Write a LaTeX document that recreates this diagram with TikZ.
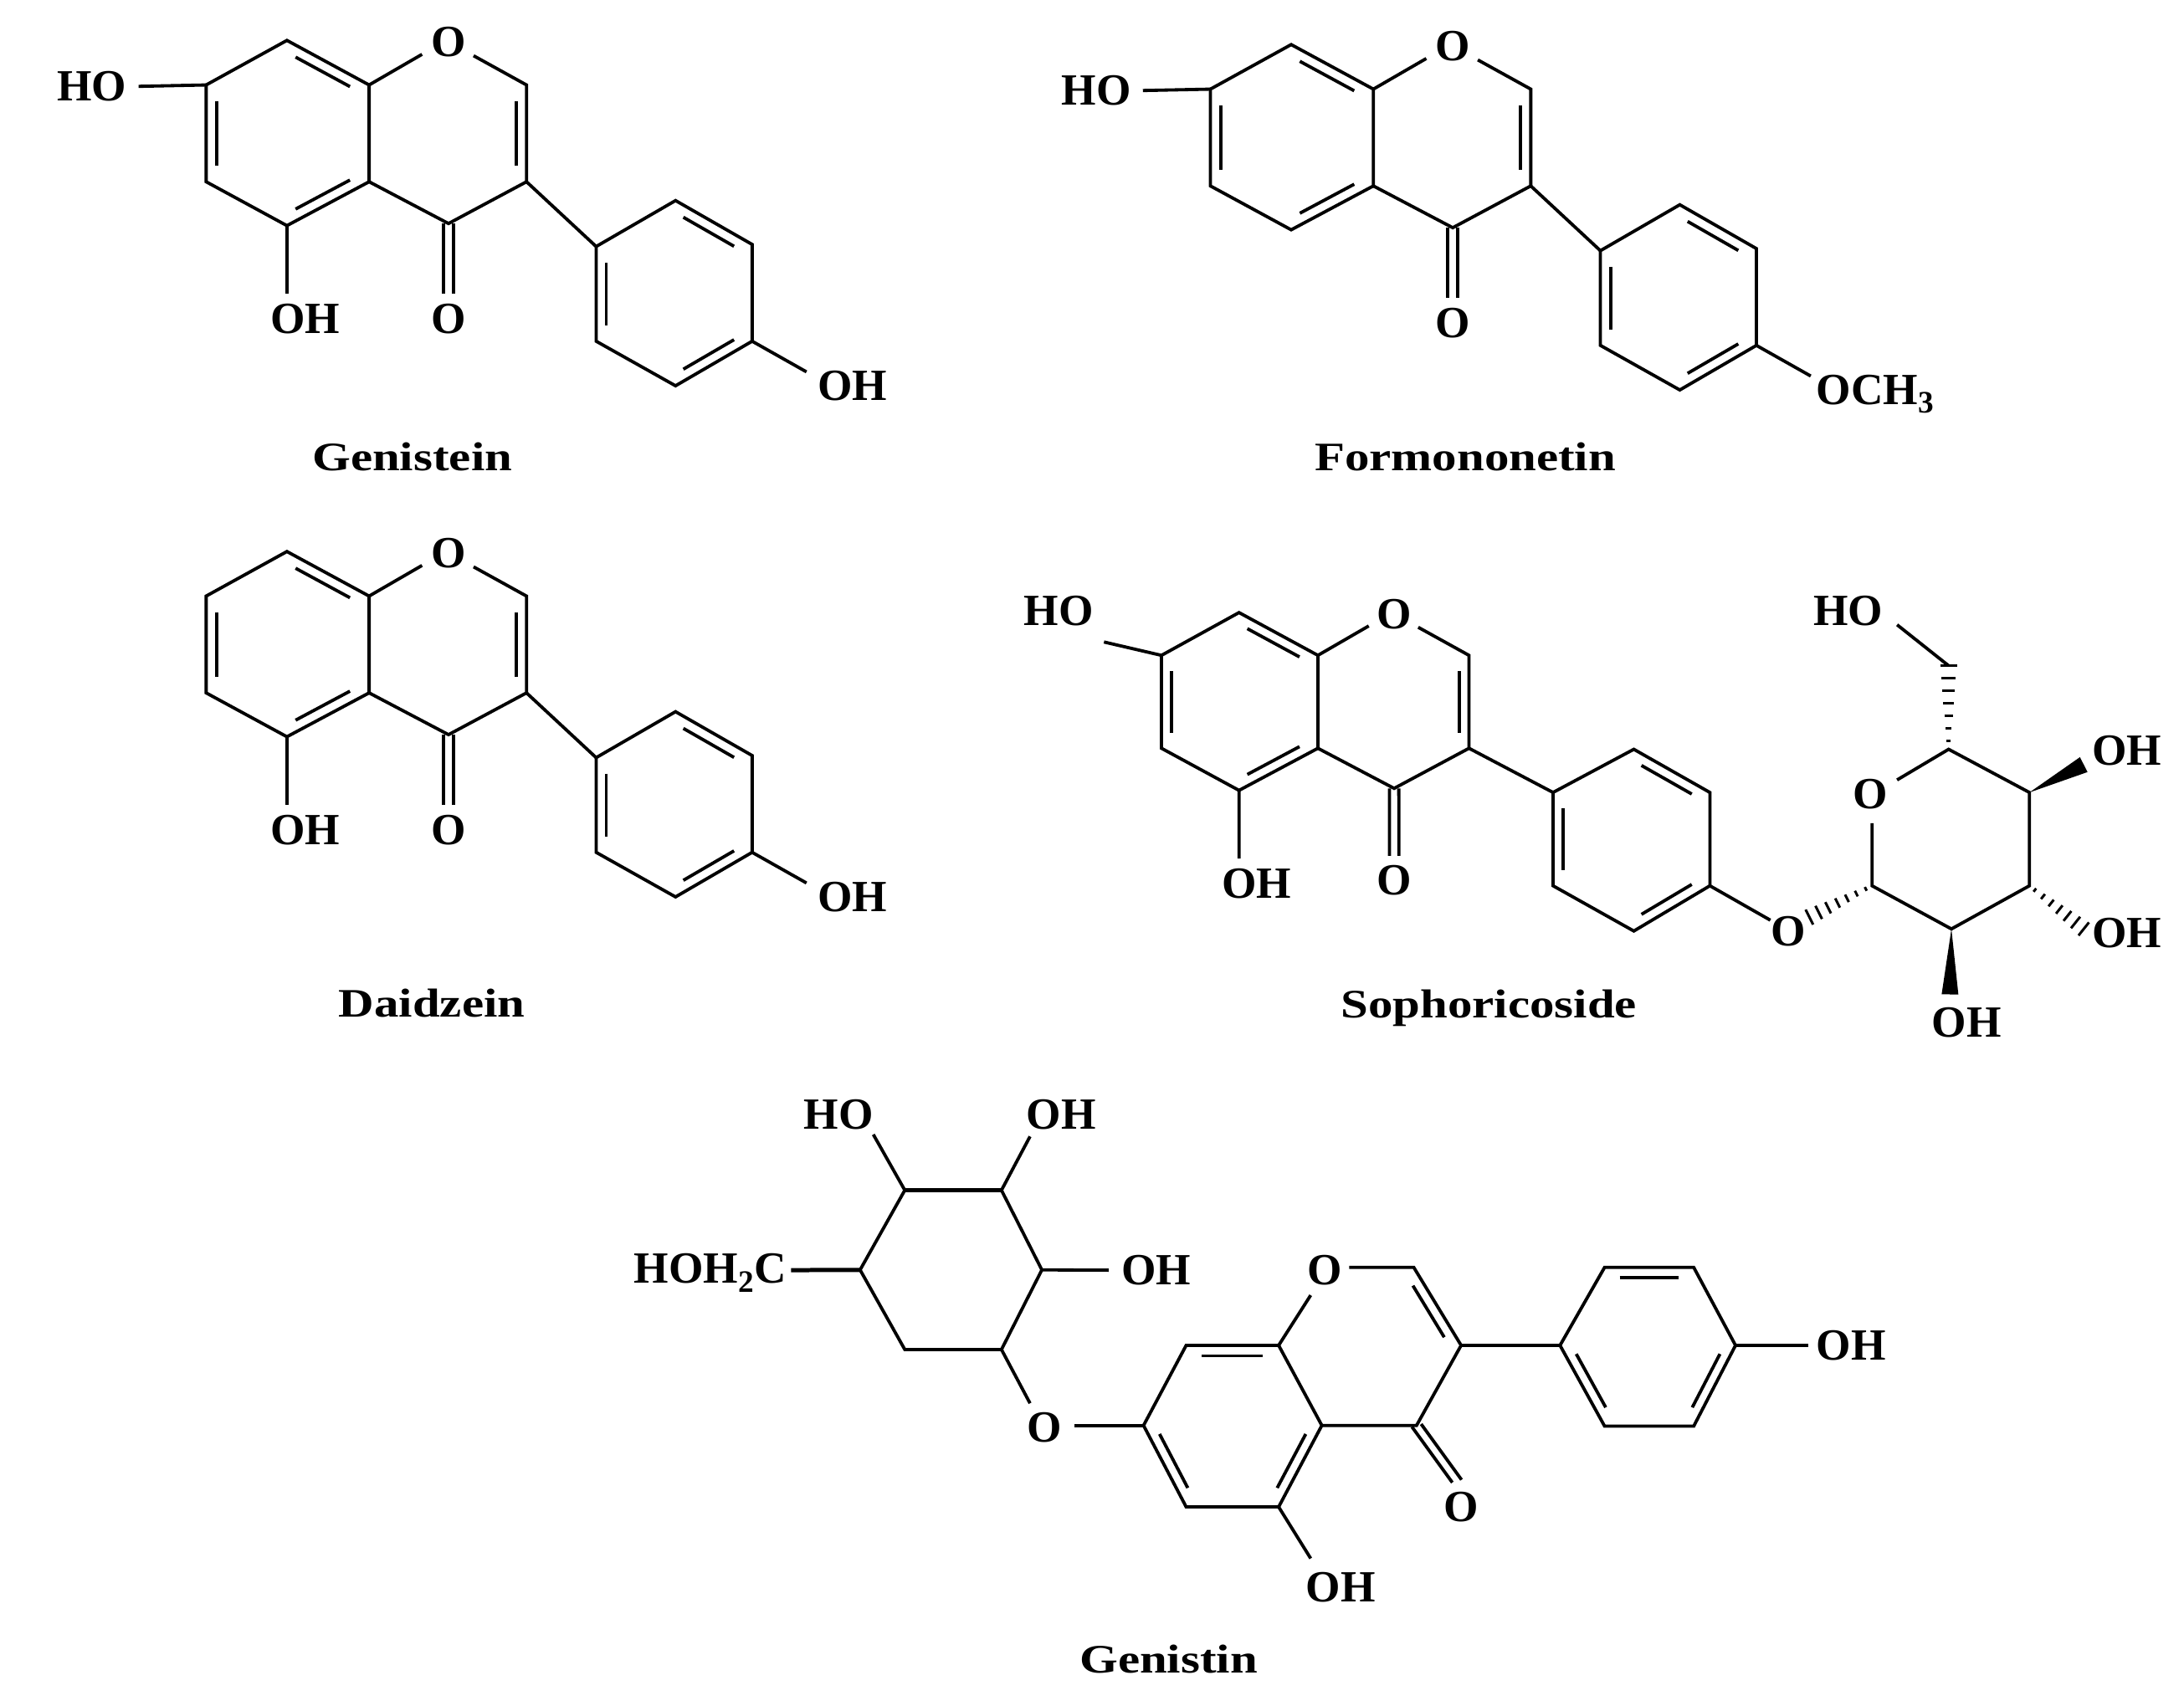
\documentclass[tikz,border=0pt]{standalone}
\usepackage{fontspec}
\usetikzlibrary{calc}
\newfontfamily\tnr{Liberation Serif}
\newcommand\atomfont{\tnr\bfseries\fontsize{32}{32}\selectfont}
\newcommand\namefont{\tnr\bfseries\fontsize{29}{29}\selectfont}
\tikzset{bond/.style={line width=2.3pt,line join=miter},atom/.style={font=\atomfont,inner sep=0pt},
 mname/.style={font=\namefont,inner sep=0pt}}
\newcommand\dbond[3]{\path ($(#2)!0.12!(#3)$) coordinate (dbA) ($(#3)!0.12!(#2)$) coordinate (dbB);
 \draw[bond] ($(#1)!0.87!(dbA)$) -- ($(#1)!0.87!(dbB)$);}
\newcommand\hashb[2]{\foreach \t in {0.1,0.25,...,1.0}{\path ($(#1)!\t!(#2)$) coordinate (hh);
 \pgfmathsetmacro\w{1+5*\t}\draw[line width=1.8pt] ($(hh)!\w pt!90:(#2)$) -- ($(hh)!\w pt!-90:(#2)$);}}
\newcommand\wedgeb[2]{\fill ($(#2)!6pt!90:(#1)$) -- (#1) -- ($(#2)!6pt!-90:(#1)$) -- cycle;}
\newcommand\chromone{%
 \coordinate (a1) at (206,29); \coordinate (a2) at (265,61); \coordinate (a3) at (265,130.5);
 \coordinate (a4) at (206,162); \coordinate (a5) at (148,130.5); \coordinate (a6) at (148,61);
 \coordinate (c2) at (378,61); \coordinate (c3) at (378,130.5); \coordinate (c4) at (322,160.5);
 \coordinate (ac) at (206.5,95.75); \coordinate (cc) at (321.5,95.75);
 \draw[bond] (a1)--(a2)--(a3)--(a4)--(a5)--(a6)--cycle;
 \draw[bond] (a2)--(303,39); \draw[bond] (340,40)--(c2)--(c3)--(c4)--(a3);
 \node[atom] (O1) at (322,30) {O};
 \dbond{ac}{a1}{a2}\dbond{ac}{a6}{a5}\dbond{ac}{a4}{a3}\dbond{cc}{c2}{c3}
 \draw[bond] ($(c4)+(-3.5,0)$)--(318.5,211); \draw[bond] ($(c4)+(3.5,0)$)--(325.5,211);
 \node[atom] (O4) at (322,229) {O};}
\newcommand\phenylG{%
 \coordinate (b1) at (428,177); \coordinate (b2) at (485,144); \coordinate (b3) at (540,175.5);
 \coordinate (b4) at (540,245); \coordinate (b5) at (485,277); \coordinate (b6) at (428,245);
 \coordinate (bc) at (484,211);
 \draw[bond] (c3)--(b1);
 \draw[bond] (b1)--(b2)--(b3)--(b4)--(b5)--(b6)--cycle;
 \dbond{bc}{b2}{b3}\dbond{bc}{b1}{b6}\dbond{bc}{b4}{b5}}
\begin{document}
\begin{tikzpicture}[x=1pt,y=-1pt]
\useasboundingbox[fill=white] (0,0) rectangle (1568,1224.4);
% Genistein
\begin{scope}
 \chromone\phenylG
 \draw[bond] (a6)--(99.5,62); \node[atom] (g7) at (66,62) {HO};
 \draw[bond] (a4)--(206,211); \node[atom] (g5) at (219,229) {OH};
 \draw[bond] (b4)--(579,267); \node[atom] (g4) at (612,277) {OH};
\end{scope}
\node[mname] (n1) at (296,328) {\scalebox{1.22}[1]{Genistein}};
% Formononetin
\begin{scope}[shift={(721,3)}]
 \chromone\phenylG
 \draw[bond] (a6)--(99.5,62); \node[atom] (f7) at (66,62) {HO};
 \draw[bond] (b4)--(579,267); \node[atom,anchor=west] (f4) at (583,280) {OCH\textsubscript{3}};
\end{scope}
\node[mname] (n2) at (1052,328) {\scalebox{1.22}[1]{Formononetin}};
% Daidzein
\begin{scope}[shift={(0,367)}]
 \chromone\phenylG
 \draw[bond] (a4)--(206,211); \node[atom] (d5) at (219,229) {OH};
 \draw[bond] (b4)--(579,267); \node[atom] (d4) at (612,277) {OH};
\end{scope}
\node[mname] (n3) at (310,720) {\scalebox{1.22}[1]{Daidzein}};
% Sophoricoside
\begin{scope}[shift={(691.8,412)},scale=0.96]
 \chromone
 \draw[bond] (a6)--(105,51); \node[atom] (s7) at (71,28) {HO};
 \draw[bond] (a4)--(206,213); \node[atom] (s5) at (219,232) {OH};
\end{scope}
\coordinate (p1) at (1115,569); \coordinate (p2) at (1173,538); \coordinate (p3) at (1227.6,569);
\coordinate (p4) at (1227.6,636); \coordinate (p5) at (1173,668.5); \coordinate (p6) at (1115,636);
\coordinate (pc) at (1171.3,602.5);
\draw[bond] (c3)--(p1);
\draw[bond] (p1)--(p2)--(p3)--(p4)--(p5)--(p6)--cycle;
\dbond{pc}{p2}{p3}\dbond{pc}{p1}{p6}\dbond{pc}{p4}{p5}
\draw[bond] (p4)--(1271,660.7); \node[atom] (sgO) at (1284,668.6) {O};
\coordinate (s1) at (1344,636); \coordinate (s2) at (1401,667); \coordinate (s3) at (1457,636);
\coordinate (s4) at (1457,569); \coordinate (s5) at (1399,538); \coordinate (s6) at (1399,478);
\node[atom] (sO) at (1343,570) {O};
\draw[bond] (1344,591)--(s1)--(s2)--(s3)--(s4)--(s5)--(1362,560);
\hashb{s1}{1299,658.5}
\hashb{s5}{s6}
\draw[bond] (s6)--(1362,448.6); \node[atom] (sHO) at (1327,438.5) {HO};
\wedgeb{s4}{1496,549} \node[atom] (sOH4) at (1527,539) {OH};
\hashb{s3}{1496,667} \node[atom] (sOH3) at (1527,670) {OH};
\wedgeb{s2}{1400,714} \node[atom] (sOH2) at (1412,734) {OH};
\node[mname] (n4) at (1069,724) {\scalebox{1.22}[1]{Sophoricoside}};
% Genistin
\coordinate (h1) at (649.6,854.6); \coordinate (h2) at (719,854.6); \coordinate (h3) at (748,911.8);
\coordinate (h4) at (719,969); \coordinate (h5) at (649.6,969); \coordinate (h6) at (617.5,911.8);
\draw[bond] (h2)--(h3)--(h4)--(h5)--(h6)--(h1);
\draw[line width=3.2pt] (h1)--(h2);
\draw[bond] (h1)--(627,814.6); \node[atom] (tHO) at (602,800) {HO};
\draw[bond] (h2)--(739.5,816); \node[atom] (tOH) at (762,800) {OH};
\draw[bond] (h3)--(796,912); \node[atom] (tOH2) at (830,912) {OH};
\draw[line width=3pt] (h6)--(568,912); \node[atom,anchor=east] (tCH) at (565,914) {HOH\textsubscript{2}C};
\draw[bond] (h4)--(739.5,1007.6); \node[atom] (tO) at (750,1025) {O};
\coordinate (k7) at (821,1023.5); \coordinate (k8) at (851.6,966); \coordinate (k8a) at (918,966);
\coordinate (k4a) at (949,1023.5); \coordinate (k5) at (918,1082); \coordinate (k6) at (851.6,1082);
\coordinate (kc2) at (1015,910); \coordinate (kc3) at (1049,966); \coordinate (kc4) at (1017,1023.5);
\coordinate (kA) at (885,1024); \coordinate (kC) at (983,966);
\draw[bond] (771.5,1023.5)--(k7);
\draw[bond] (k7)--(k8)--(k8a)--(k4a)--(k5)--(k6)--cycle;
\dbond{kA}{k8}{k8a}\dbond{kA}{k7}{k6}\dbond{kA}{k4a}{k5}
\draw[bond] (k8a)--(941,930); \node[atom] (tO1) at (951,912) {O};
\draw[bond] (968.6,910)--(kc2)--(kc3)--(kc4)--(k4a);
\dbond{kC}{kc2}{kc3}
\draw[bond] ($(kc4)+(-3.3,1)$)--($(1046,1063.5)+(-3.3,1)$);
\draw[bond] ($(kc4)+(3.3,-1)$)--($(1046,1063.5)+(3.3,-1)$);
\node[atom] (tO4) at (1049,1082) {O};
\draw[bond] (k5)--(941,1119); \node[atom] (tOH5) at (962.5,1140) {OH};
\coordinate (m1) at (1120,966); \coordinate (m2) at (1152,910); \coordinate (m3) at (1216,910);
\coordinate (m4) at (1246,966); \coordinate (m5) at (1216,1024); \coordinate (m6) at (1152,1024);
\coordinate (mc) at (1184,967);
\draw[bond] (kc3)--(m1);
\draw[bond] (m1)--(m2)--(m3)--(m4)--(m5)--(m6)--cycle;
\dbond{mc}{m2}{m3}\dbond{mc}{m1}{m6}\dbond{mc}{m4}{m5}
\draw[bond] (m4)--(1298,966); \node[atom] (tOH4) at (1329,966) {OH};
\node[mname] (n5) at (839,1191) {\scalebox{1.22}[1]{Genistin}};
\end{tikzpicture}
\end{document}
